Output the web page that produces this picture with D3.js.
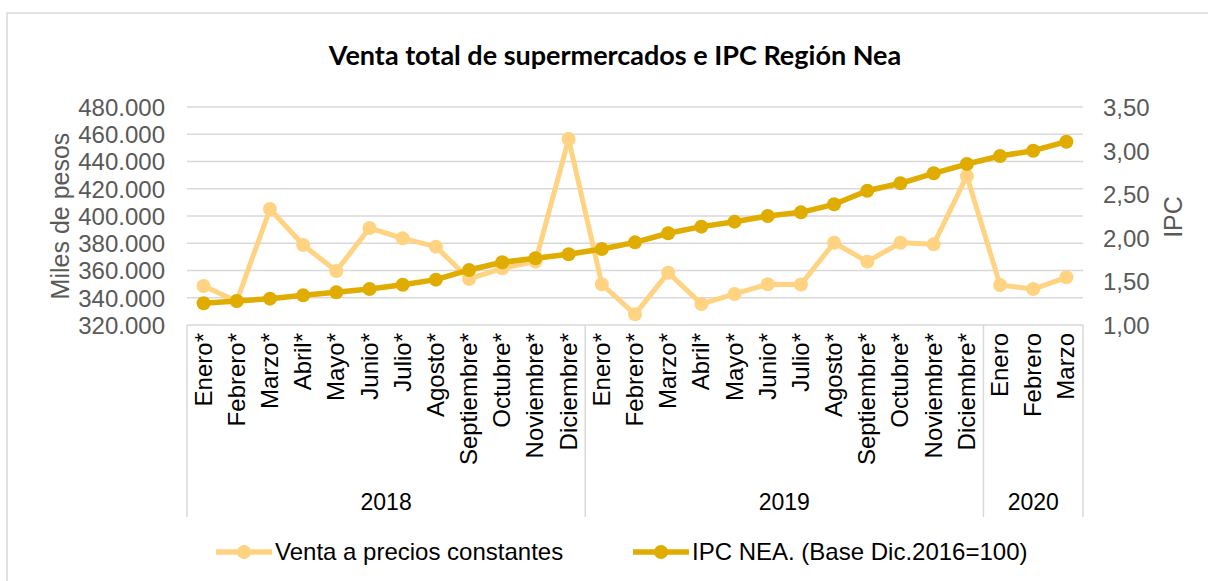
<!DOCTYPE html>
<html lang="es">
<head>
<meta charset="UTF-8">
<title>Venta total de supermercados e IPC Región Nea</title>
<script src="https://cdn.jsdelivr.net/npm/d3@7"></script>
<style>
    body { margin: 0; background: #fff; }
    svg text { font-family: "Liberation Sans", Arial, sans-serif; }
    .grid line { stroke: #d9d9d9; stroke-width: 1.3; }
    .tick-lbl { fill: #595959; font-size: 24px; }
</style>
</head>
<body>
<svg width="1208" height="581"></svg>
<script>
const months = ["Enero*", "Febrero*", "Marzo*", "Abril*", "Mayo*", "Junio*", "Julio*", "Agosto*", "Septiembre*", "Octubre*", "Noviembre*", "Diciembre*",
                "Enero*", "Febrero*", "Marzo*", "Abril*", "Mayo*", "Junio*", "Julio*", "Agosto*", "Septiembre*", "Octubre*", "Noviembre*", "Diciembre*",
                "Enero", "Febrero", "Marzo"];
const years = ["2018", "2019", "2020"];
const yearSizes = [12, 12, 3];
// miles de pesos
const venta = [348600, 337500, 405100, 378700, 359600, 391200, 383600, 377500, 353800, 361600, 366500, 456500,
               349900, 327800, 358400, 335400, 342800, 349900, 349700, 380400, 366500, 380400, 379200, 429400,
               349400, 346400, 355000];
const ipc = [1.249, 1.275, 1.302, 1.340, 1.375, 1.413, 1.462, 1.520, 1.631, 1.719, 1.765, 1.811,
             1.872, 1.948, 2.052, 2.128, 2.185, 2.250, 2.292, 2.384, 2.540, 2.625, 2.740, 2.846,
             2.938, 2.999, 3.102];
const leftTicks = [320000, 340000, 360000, 380000, 400000, 420000, 440000, 460000, 480000];
const rightTicks = [1.0, 1.5, 2.0, 2.5, 3.0, 3.5];
const seriesNames = ["Venta a precios constantes", "IPC NEA. (Base Dic.2016=100)"];
const colors = ["#ffd382", "#e0ac00"];

const svg = d3.select("svg");
const es = d3.formatLocale({ decimal: ",", thousands: ".", grouping: [3], currency: ["$", ""] });
const fmtL = es.format(",.0f"), fmtR = es.format(",.2f");

const plot = { left: 187, right: 1083, top: 107, bottom: 325 };
const x = d3.scaleBand().domain(d3.range(months.length)).range([plot.left, plot.right]);
const cx = i => x(i) + x.bandwidth() / 2;
const yL = d3.scaleLinear().domain([320000, 480000]).range([plot.bottom, plot.top]);
const yR = d3.scaleLinear().domain([1, 3.5]).range([plot.bottom, plot.top]);

// outer frame
svg.append("path").attr("d", "M7,581V13H1208").attr("fill", "none").attr("stroke", "#d9d9d9").attr("stroke-width", 1.5);

// title
svg.append("text").attr("x", 615).attr("y", 65).attr("text-anchor", "middle")
    .style("font-family", "Lato, 'Open Sans', sans-serif").style("font-weight", "bold").style("font-size", "27px")
    .attr("fill", "#000").text("Venta total de supermercados e IPC Región Nea");

// gridlines
svg.append("g").attr("class", "grid").selectAll("line").data(leftTicks.slice(1)).join("line")
    .attr("x1", plot.left).attr("x2", plot.right).attr("y1", d => yL(d)).attr("y2", d => yL(d));

// left axis
const ga = svg.append("g").attr("transform", `translate(${plot.left - 22},0)`)
    .call(d3.axisLeft(yL).tickValues(leftTicks).tickFormat(fmtL).tickSize(0).tickPadding(0));
ga.select(".domain").remove();
ga.selectAll("text").attr("class", "tick-lbl").attr("dy", "0.35em").style("font-size", "24px");

// right axis
const gr = svg.append("g").attr("transform", `translate(${plot.right + 20},0)`)
    .call(d3.axisRight(yR).tickValues(rightTicks).tickFormat(fmtR).tickSize(0).tickPadding(0));
gr.select(".domain").remove();
gr.selectAll("text").attr("class", "tick-lbl").attr("dy", "0.35em").style("font-size", "24px");

// axis titles
svg.append("text").attr("transform", "translate(69,216) rotate(-90)").attr("text-anchor", "middle")
    .attr("fill", "#595959").style("font-size", "25px").text("Miles de pesos");
svg.append("text").attr("transform", "translate(1182,217) rotate(-90)").attr("text-anchor", "middle")
    .attr("fill", "#595959").style("font-size", "25px").text("IPC");

// category axis
const catBottom = 517;
svg.append("line").attr("x1", plot.left).attr("x2", plot.right).attr("y1", plot.bottom).attr("y2", plot.bottom)
    .attr("stroke", "#d9d9d9").attr("stroke-width", 1.5);
const bounds = [0];
yearSizes.forEach(n => bounds.push(bounds[bounds.length - 1] + n));
svg.append("g").selectAll("line").data(bounds).join("line")
    .attr("x1", d => d < months.length ? x(d) : plot.right).attr("x2", d => d < months.length ? x(d) : plot.right)
    .attr("y1", plot.bottom).attr("y2", catBottom).attr("stroke", "#d9d9d9").attr("stroke-width", 1.5);

svg.append("g").selectAll("text").data(months).join("text")
    .attr("transform", (d, i) => `translate(${cx(i) + 8},333) rotate(-90)`)
    .attr("text-anchor", "end").attr("fill", "#000").style("font-size", "24px").text(d => d);

svg.append("g").selectAll("text").data(years).join("text")
    .attr("x", (d, i) => {
        const a = x(bounds[i]);
        const b = bounds[i + 1] < months.length ? x(bounds[i + 1]) : plot.right;
        return (a + b) / 2;
    })
    .attr("y", 510).attr("text-anchor", "middle").attr("fill", "#000").style("font-size", "23px").text(d => d);

// series
const lineL = d3.line().x((d, i) => cx(i)).y(d => yL(d));
const lineR = d3.line().x((d, i) => cx(i)).y(d => yR(d));

svg.append("path").datum(venta).attr("d", lineL).attr("fill", "none")
    .attr("stroke", colors[0]).attr("stroke-width", 5).attr("stroke-linejoin", "round");
svg.append("g").selectAll("circle").data(venta).join("circle")
    .attr("cx", (d, i) => cx(i)).attr("cy", d => yL(d)).attr("r", 7).attr("fill", colors[0]);

svg.append("path").datum(ipc).attr("d", lineR).attr("fill", "none")
    .attr("stroke", colors[1]).attr("stroke-width", 5.5).attr("stroke-linejoin", "round");
svg.append("g").selectAll("circle").data(ipc).join("circle")
    .attr("cx", (d, i) => cx(i)).attr("cy", d => yR(d)).attr("r", 7).attr("fill", colors[1]);

// legend
const legX = [216, 633];
const leg = svg.append("g").selectAll("g").data(seriesNames).join("g")
    .attr("transform", (d, i) => `translate(${legX[i]},552)`);
leg.append("line").attr("x1", 0).attr("x2", 56).attr("stroke", (d, i) => colors[i]).attr("stroke-width", 5.5);
leg.append("circle").attr("cx", 28).attr("r", 7).attr("fill", (d, i) => colors[i]);
leg.append("text").attr("x", 59).attr("dy", "0.35em").attr("fill", "#000").style("font-size", "24px").text(d => d);
</script>
</body>
</html>
